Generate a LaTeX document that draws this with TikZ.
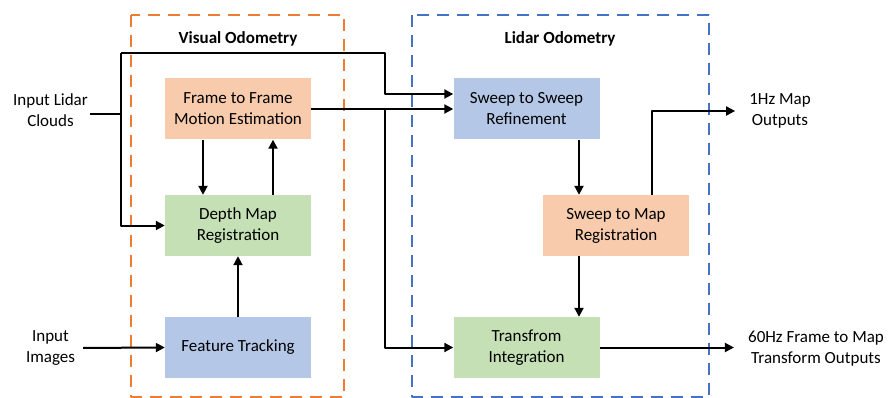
\documentclass[tikz,border=0pt]{standalone}
\usepackage{fontspec}
\setmainfont{Carlito}
\usetikzlibrary{arrows.meta}
\definecolor{peach}{HTML}{F8CBAD}
\definecolor{leaf}{HTML}{C5E0B4}
\definecolor{sky}{HTML}{B4C7E7}
\definecolor{voorange}{HTML}{ED7D31}
\definecolor{loblue}{HTML}{4472C4}
\begin{document}
\begin{tikzpicture}[x=1pt,y=-1pt,font=\fontsize{17}{21}\selectfont,line join=round,>={Triangle[length=9pt,width=9pt]},
	blk/.style={minimum width=146pt,minimum height=61pt,align=center,inner sep=0pt},
	lbl/.style={align=center,inner sep=2pt},
	conn/.style={line width=2pt,->},
	grp/.style={line width=2pt,dash pattern=on 12pt off 8pt}]
				\useasboundingbox (0,0) rectangle (888,398);
				\draw[grp,draw=voorange] (131,15) rectangle (344,396.5);
				\draw[grp,draw=loblue] (412,15) rectangle (709,396.5);
				\node[font=\fontsize{17}{21}\selectfont\bfseries] (vo) at (238,39) {Visual Odometry};
				\node[font=\fontsize{17}{21}\selectfont\bfseries] (lo) at (560,39) {Lidar Odometry};
				
				\node[blk,fill=peach] (ff) at (238,109) {Frame to Frame\\Motion Estimation};
				\node[blk,fill=leaf] (dm) at (238,225.5) {Depth Map\\Registration};
				\node[blk,fill=sky] (ft) at (238,347.5) {Feature Tracking};
				\node[blk,fill=sky] (ss) at (526.5,109) {Sweep to Sweep\\Refinement};
				\node[blk,fill=peach] (sm) at (616,225.5) {Sweep to Map\\Registration};
				\node[blk,fill=leaf] (ti) at (526.5,347.5) {Transfrom\\Integration};
				
				\node[lbl] (lidar) at (50.5,110) {Input Lidar\\Clouds};
				\node[lbl] (img) at (50.5,348) {Input\\Images};
				\node[lbl] (hz1) at (780,111) {1Hz Map\\Outputs};
				\node[lbl] (hz60) at (816,349) {60Hz Frame to Map\\Transform Outputs};
				
				\coordinate (j1) at (121,114);
				\coordinate (up) at (121,53);
				\coordinate (dn) at (385,53);
				\draw[conn,-] (lidar.east |- j1) -- (j1);
				\draw[conn] (up) |- (dm.west);
				\draw[conn] (up) -- (dn) |- ([yshift=15pt]ss.west);
				\draw[conn] (ff.east) -- (ss.west);
				\draw[conn] (ff.east -| dn) |- (ti.west);
				\draw[conn] ([xshift=-35pt]ff.south) -- ([xshift=-35pt]dm.north);
				\draw[conn] ([xshift=35pt]dm.north) -- ([xshift=35pt]ff.south);
				\draw[conn] (ft) -- (dm);
				\draw[conn,shorten <=6pt] (img.east) -- (ft.west);
				\draw[conn] ([xshift=52.5pt]ss.south) -- ([xshift=52.5pt]ss.south |- sm.north);
				\draw[conn] ([xshift=-37pt]sm.south) -- ([xshift=-37pt]sm.south |- ti.north);
				\draw[conn,shorten >=12pt] ([xshift=36pt]sm.north) |- (hz1.west);
				\draw[conn,shorten >=12pt] (ti.east) -- (ti.east -| hz60.west);
			\end{tikzpicture}
\end{document}
